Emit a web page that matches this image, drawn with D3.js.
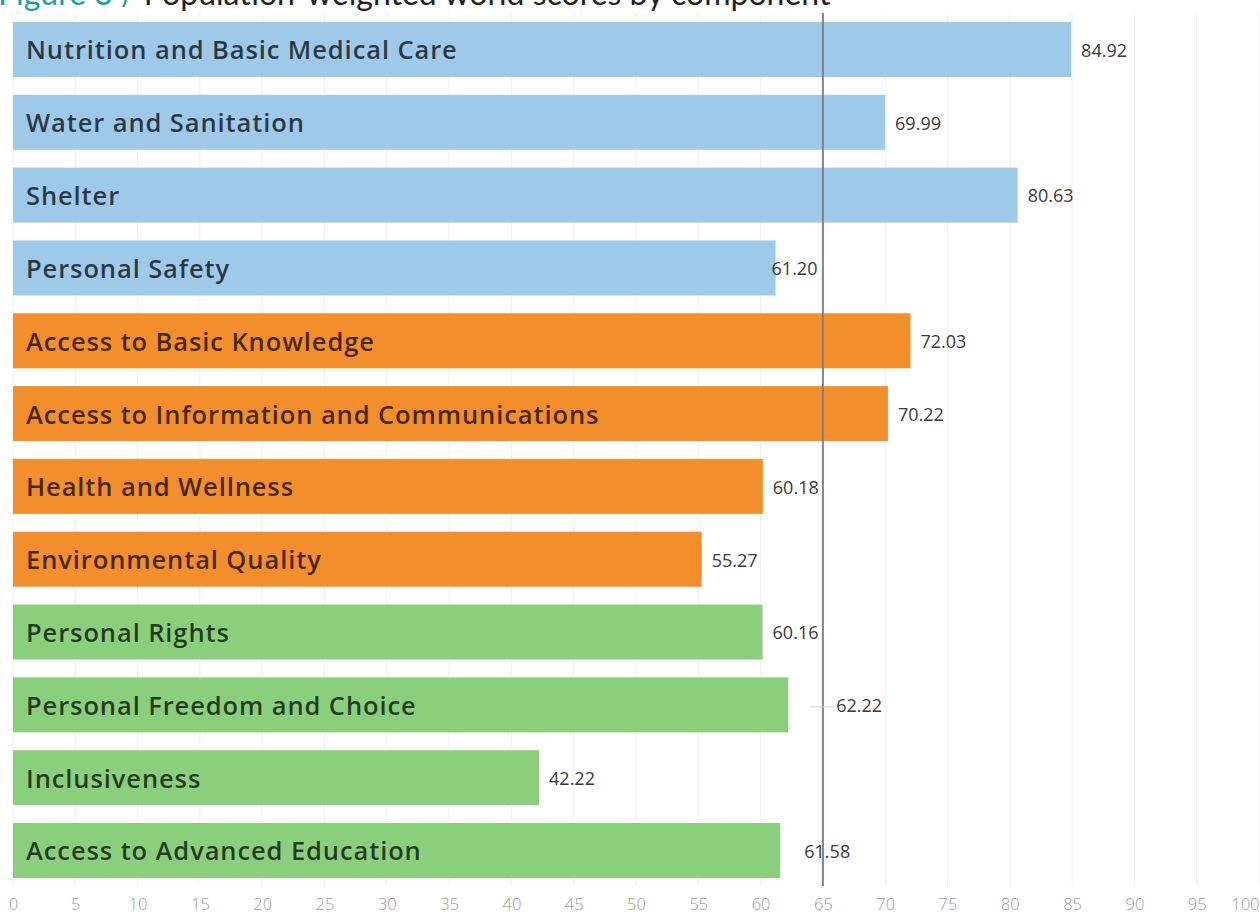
<!DOCTYPE html>
<html>
<head>
<meta charset="utf-8">
<script src="https://cdn.jsdelivr.net/npm/d3@7"></script>
<style>
  body { margin: 0; background: #fff; }
  svg { display: block; font-family: "Open Sans", "Noto Sans", sans-serif; }
</style>
</head>
<body>
<div class="chart"></div>
<script>
// components, in drawing order (top to bottom)
const components = [
  "Nutrition and Basic Medical Care",
  "Water and Sanitation",
  "Shelter",
  "Personal Safety",
  "Access to Basic Knowledge",
  "Access to Information and Communications",
  "Health and Wellness",
  "Environmental Quality",
  "Personal Rights",
  "Personal Freedom and Choice",
  "Inclusiveness",
  "Access to Advanced Education"
];
const scores = [84.92, 69.99, 80.63, 61.20, 72.03, 70.22, 60.18, 55.27, 60.16, 62.22, 42.22, 61.58];
const dimensions = [
  "Basic Human Needs", "Basic Human Needs", "Basic Human Needs", "Basic Human Needs",
  "Foundations of Wellbeing", "Foundations of Wellbeing", "Foundations of Wellbeing", "Foundations of Wellbeing",
  "Opportunity", "Opportunity", "Opportunity", "Opportunity"
];
const worldScore = 65;
const xTicks = [0, 5, 10, 15, 20, 25, 30, 35, 40, 45, 50, 55, 60, 65, 70, 75, 80, 85, 90, 95, 100];

const data = components.map((c, i) => ({name: c, value: scores[i], dim: dimensions[i]}));

const W = 1260, H = 917;
const margin = {top: 22, left: 13, right: 1, bottom: 39};

const svg = d3.select(".chart").append("svg")
  .attr("width", W)
  .attr("height", H);

const xScale = d3.scaleLinear()
  .domain([0, 100])
  .range([margin.left, W - margin.right]);

const yScale = d3.scaleBand()
  .domain(components)
  .range([margin.top, H - margin.bottom])
  .paddingInner(0.245)
  .paddingOuter(0.0);

const color = d3.scaleOrdinal()
  .domain(["Basic Human Needs", "Foundations of Wellbeing", "Opportunity"])
  .range(["#9ec9e9", "#f28e2b", "#8ad07c"]);

// faint vertical grid
svg.append("g")
  .selectAll("line")
  .data(xTicks)
  .join("line")
  .attr("x1", d => xScale(d))
  .attr("x2", d => xScale(d))
  .attr("y1", 13)
  .attr("y2", 886)
  .attr("stroke", "#eef0f2")
  .attr("stroke-width", 1);

// x axis labels
const xAxis = d3.axisBottom(xScale)
  .tickValues(xTicks)
  .tickSize(0)
  .tickPadding(0);

svg.append("g")
  .attr("class", "axis x-axis")
  .attr("transform", `translate(0, 898)`)
  .call(xAxis)
  .call(g => g.select(".domain").remove())
  .call(g => g.selectAll(".tick text")
    .attr("font-size", 16.5)
    .attr("font-family", "\"Open Sans\", sans-serif")
    .attr("font-weight", 300)
    .attr("fill", "#9c9c9c")
    .attr("dy", "0.71em")
    .filter(d => d === 100)
    .attr("text-anchor", "end")
    .attr("dx", 0)
  );

// bars
svg.append("g")
  .selectAll("rect")
  .data(data)
  .join("rect")
  .attr("x", xScale(0))
  .attr("y", d => yScale(d.name))
  .attr("width", d => xScale(d.value) - xScale(0))
  .attr("height", yScale.bandwidth())
  .attr("fill", d => color(d.dim));

// category names inside bars
svg.append("g")
  .selectAll("text")
  .data(data)
  .join("text")
  .attr("x", xScale(0) + 13)
  .attr("y", d => yScale(d.name) + yScale.bandwidth() / 2 + 1)
  .attr("dy", "0.35em")
  .attr("font-size", 25.5)
  .attr("font-weight", 600)
  .attr("letter-spacing", 0.9)
  .attr("fill", "#000")
  .attr("fill-opacity", 0.72)
  .text(d => d.name);

// world average reference line
svg.append("line")
  .attr("x1", xScale(worldScore))
  .attr("x2", xScale(worldScore))
  .attr("y1", 13)
  .attr("y2", 886)
  .attr("stroke", "#7d8389")
  .attr("stroke-width", 2);

// value labels (a few get pushed around the reference line)
const nudge = {"Personal Safety": -14, "Personal Freedom and Choice": 38, "Access to Advanced Education": 14};

svg.append("g")
  .selectAll("line")
  .data(data.filter(d => nudge[d.name] > 20))
  .join("line")
  .attr("x1", d => xScale(d.value) + 22)
  .attr("x2", d => xScale(d.value) + 46)
  .attr("y1", d => yScale(d.name) + yScale.bandwidth() / 2 + 2)
  .attr("y2", d => yScale(d.name) + yScale.bandwidth() / 2 + 2)
  .attr("stroke", "#cfcfcf")
  .attr("stroke-width", 1);

svg.append("g")
  .selectAll("text")
  .data(data)
  .join("text")
  .attr("x", d => xScale(d.value) + 10 + (nudge[d.name] || 0))
  .attr("y", d => yScale(d.name) + yScale.bandwidth() / 2 + 1)
  .attr("dy", "0.35em")
  .attr("font-size", 18)
  .attr("font-weight", 500)
  .attr("fill", "#3a3a3a")
  .text(d => d3.format(".2f")(d.value));

// title, partly cut off at the top edge
const title = svg.append("text")
  .attr("x", -2)
  .attr("y", 5)
  .attr("font-size", 32)
  .attr("font-family", "Lato, \"Open Sans\", sans-serif");
title.append("tspan").attr("fill", "#1a9fa8").text("Figure 3 / ");
title.append("tspan").attr("fill", "#222").text("Population-weighted world scores by component");
</script>
</body>
</html>
